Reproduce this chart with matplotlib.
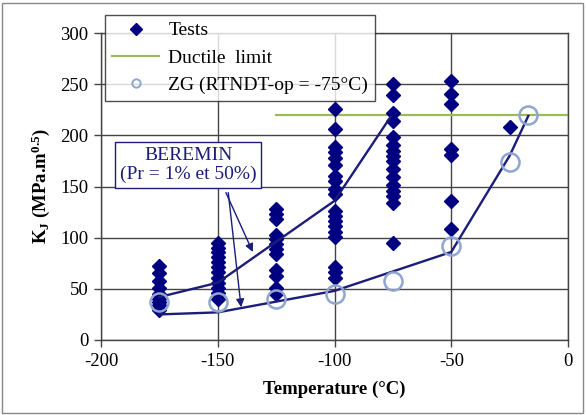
import matplotlib
matplotlib.use("Agg")
import matplotlib.pyplot as plt
from matplotlib.lines import Line2D
from matplotlib.patches import Rectangle

plt.rcParams['font.family'] = ['Liberation Serif', 'DejaVu Serif']
plt.rcParams['mathtext.fontset'] = 'custom'
plt.rcParams['mathtext.rm'] = 'Liberation Serif'
plt.rcParams['mathtext.it'] = 'Liberation Serif:italic'
plt.rcParams['mathtext.bf'] = 'Liberation Serif:bold'
plt.rcParams['axes.unicode_minus'] = False

# ---- data ----
test_temps = [-175, -150, -125, -100, -75, -50, -25]
tests_m175 = [72, 65, 58, 51, 45, 40, 37, 34, 29]
tests_m150 = [95, 90, 86, 81, 76, 71, 66, 61, 56, 51, 46, 40]
tests_m125 = [128, 123, 118, 103, 99, 94, 89, 84, 68, 63, 51, 45]
tests_m100 = [226, 206, 189, 184, 178, 171, 160, 155, 148, 143, 126, 121,
              116, 111, 106, 101, 71, 66, 61]
tests_m75 = [250, 239, 222, 214, 198, 191, 185, 180, 175, 167, 159, 151,
             146, 141, 134, 95]
tests_m50 = [253, 240, 231, 187, 181, 136, 108]
tests_m25 = [208]
tests_by_temp = [tests_m175, tests_m150, tests_m125, tests_m100,
                 tests_m75, tests_m50, tests_m25]

ductile_T = [-125, 0]
ductile_K = [220, 220]

zg_T = [-175, -150, -125, -100, -75, -50, -25, -17]
zg_K = [37, 37, 40, 45, 58, 92, 174, 220]

beremin1_T = [-175, -150, -100, -50, -25, -17]
beremin1_K = [25, 27, 48, 86, 180, 219]

beremin50_T = [-175, -150, -100, -76]
beremin50_K = [42, 56, 136, 218]

NAVY = '#000080'
LINE = '#1c1c7a'
GREEN = '#9bbb59'
CIRC = '#8fa6cf'
GRID = '#444444'

fig = plt.figure(figsize=(5.86, 4.15), dpi=100)
ax = fig.add_axes([101/586, 1-340/415, (568-101)/586, (340-33)/415])

ax.set_xlim(-200, 0)
ax.set_ylim(0, 300)
ax.set_xticks(range(-200, 1, 50))
ax.set_yticks(range(0, 301, 50))
ax.grid(True, color=GRID, linewidth=1.0)
ax.set_axisbelow(True)
for s in ax.spines.values():
    s.set_color(GRID)
    s.set_linewidth(1.0)
ax.tick_params(direction='out', length=5, width=1, color=GRID,
               labelsize=13.5, pad=4)

# ductile limit
ax.plot(ductile_T, ductile_K, color=GREEN, lw=1.6, zorder=2)

# Beremin curves
ax.plot(beremin1_T, beremin1_K, color=LINE, lw=1.7, zorder=4)
ax.plot(beremin50_T, beremin50_K, color=LINE, lw=1.7, zorder=4)

# tests
for T, vals in zip(test_temps, tests_by_temp):
    ax.plot([T]*len(vals), vals, linestyle='none', marker='D', ms=6.8,
            color=NAVY, mec=NAVY, zorder=3)

# ZG circles
ax.plot(zg_T, zg_K, linestyle='none', marker='o', ms=13, mfc='none',
        mec=CIRC, mew=1.8, zorder=5)

# annotation box
ax.text(-162.7, 171, "BEREMIN\n(Pr = 1% et 50%)", ha='center', va='center',
        fontsize=14, color=LINE, linespacing=1.15, zorder=6,
        bbox=dict(boxstyle='square,pad=0.25', fc='white', ec=LINE, lw=1.0))
ax.annotate('', xy=(-135, 86), xytext=(-146.5, 144),
            arrowprops=dict(arrowstyle='-|>', color=LINE, lw=1.0,
                            mutation_scale=12, shrinkA=0, shrinkB=0), zorder=6)
ax.annotate('', xy=(-140, 32), xytext=(-145.5, 144),
            arrowprops=dict(arrowstyle='-|>', color=LINE, lw=1.0,
                            mutation_scale=12, shrinkA=0, shrinkB=0), zorder=6)

ax.set_xlabel('Temperature (°C)', fontsize=13.5, fontweight='bold', labelpad=8)
ax.set_ylabel(r'$\mathbf{K}_{\mathbf{J}}$ (MPa.m$^{\mathbf{0.5}}$)', fontsize=13.5,
              fontweight='bold', labelpad=6)

handles = [
    Line2D([], [], linestyle='none', marker='D', ms=6, color=NAVY),
    Line2D([], [], color=GREEN, lw=1.6),
    Line2D([], [], linestyle='none', marker='o', ms=6, mfc='none', mec=CIRC, mew=1.4),
]
labels = ['Tests', 'Ductile  limit', 'ZG (RTNDT-op = -75°C)']
leg = fig.legend(handles, labels, loc='upper left',
                 bbox_to_anchor=(105/586, 1-15/415), bbox_transform=fig.transFigure,
                 borderaxespad=0, fontsize=14, frameon=True, fancybox=False,
                 handlelength=2.45, handletextpad=0.45, labelspacing=0.5,
                 borderpad=0.35)
leg.get_frame().set_edgecolor('#222222')
leg.get_frame().set_linewidth(1.0)
leg.set_zorder(10)

# outer frame
fig.patches.append(Rectangle((2/586, 2/415), 1-5/586, 1-5/415,
                             transform=fig.transFigure, fill=False,
                             ec='#888888', lw=1.0))

fig.savefig('out.png', dpi=100)
